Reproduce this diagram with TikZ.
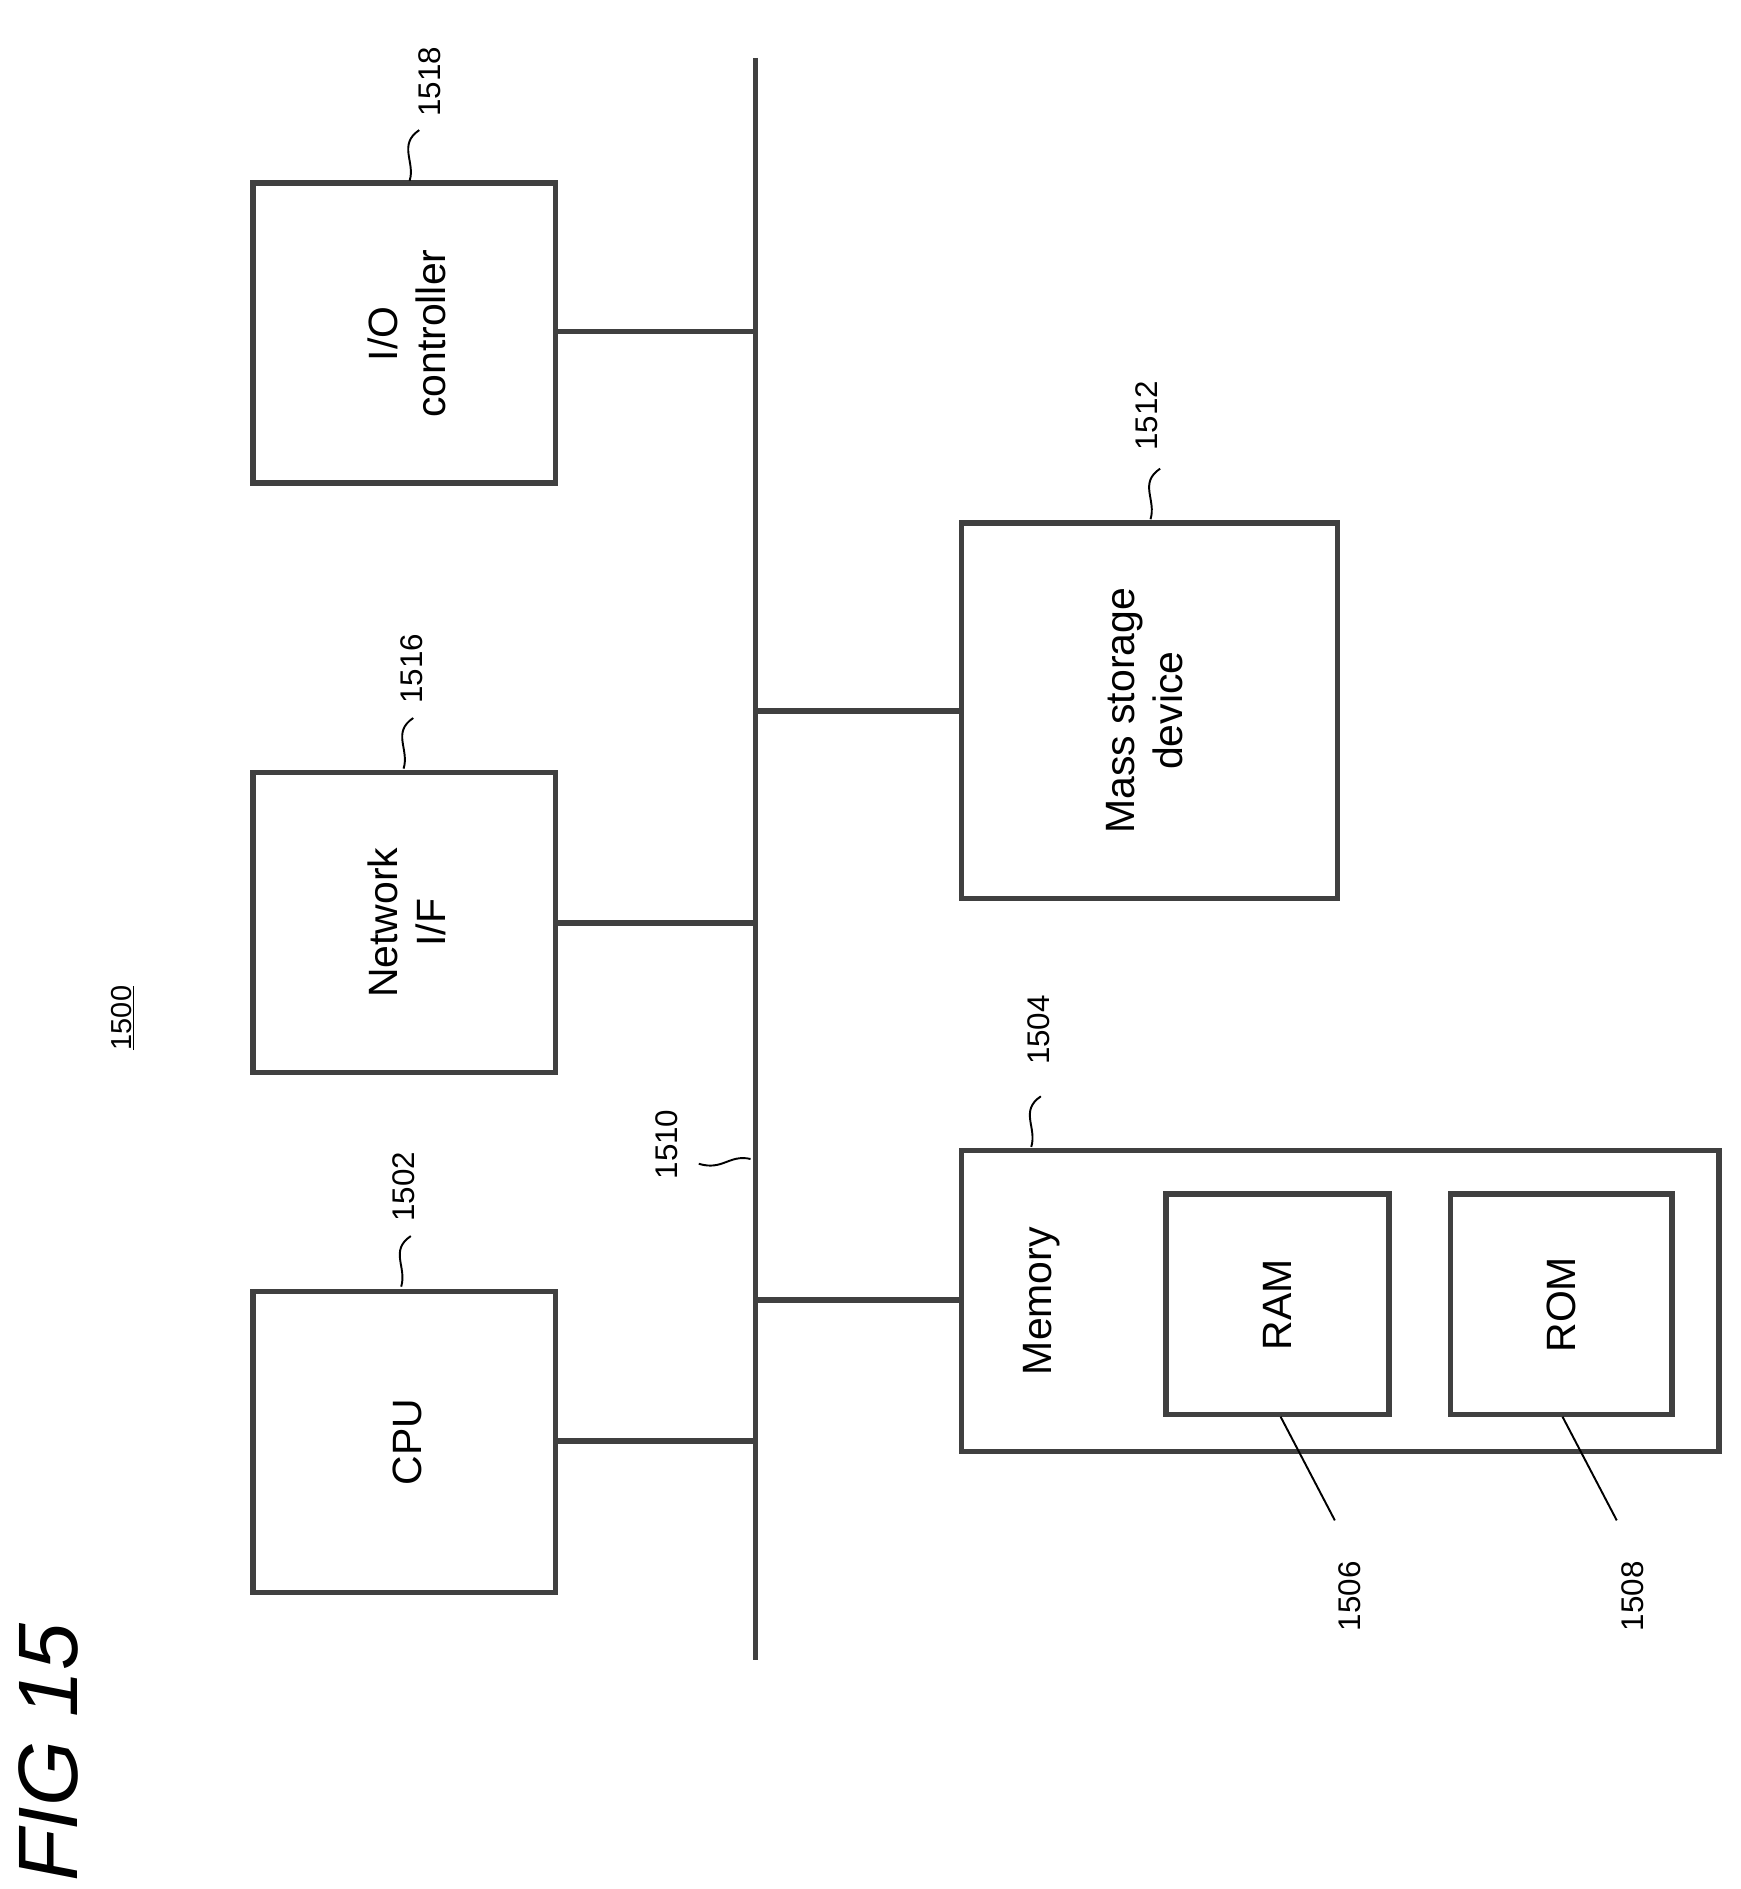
\documentclass[tikz,border=0pt]{standalone}
\usepackage{fontspec}
\setmainfont{Liberation Sans}
\begin{document}
\begin{tikzpicture}[x=1pt,y=-1pt,
 ln/.style={draw=black!75,line width=4.5pt},
 box/.style={ln,fill=none},
 lbl/.style={rotate=90,font=\fontsize{34}{40}\selectfont,align=center},
 ref/.style={rotate=90,font=\fontsize{26}{30}\selectfont},
 sq/.style={draw=black,line width=1.6pt}]
\useasboundingbox (0,0) rectangle (1445,1568);
\coordinate (bt) at (627,48); \coordinate (bb) at (627,1378);
\draw[ln] (bt) -- (bb);
% boxes
\draw[box] (210,152) rectangle (461,401); \node[lbl] (io) at (338,277) {I/O\\controller};
\draw[box] (210,641) rectangle (461,890); \node[lbl] (net) at (338,766) {Network\\I/F};
\draw[box] (210,1072) rectangle (461,1322); \node[lbl] (cpu) at (338,1197) {CPU};
\draw[box] (798,434) rectangle (1110,746); \node[lbl] (ms) at (950,590) {Mass storage\\device};
\draw[box] (798,955) rectangle (1427,1205); \node[lbl] (mem) at (865,1080) {Memory};
\draw[box] (968,991) rectangle (1153,1174); \node[lbl] (ram) at (1060,1083) {RAM};
\draw[box] (1204,991) rectangle (1388,1174); \node[lbl] (rom) at (1296,1083) {ROM};
% connectors
\draw[ln] (461,275) -- (627,275);
\draw[ln] (461,766) -- (627,766);
\draw[ln] (461,1196) -- (627,1196);
\draw[ln] (627,590) -- (798,590);
\draw[ln] (627,1079) -- (798,1079);
% labels
\node[ref] (l1518) at (357,68) {1518};
\draw[sq] (340,150) .. controls (345,135) and (330,120) .. (348,108);
\node[ref] (l1516) at (342,555) {1516};
\draw[sq] (335,638) .. controls (340,622) and (325,608) .. (343,596);
\node[ref] (l1502) at (335,985) {1502};
\draw[sq] (333,1068) .. controls (338,1052) and (323,1038) .. (341,1026);
\node[ref] (l1512) at (952,345) {1512};
\draw[sq] (955,431) .. controls (960,415) and (945,401) .. (963,389);
\node[ref] (l1504) at (862,855) {1504};
\draw[sq] (856,952) .. controls (861,936) and (846,922) .. (864,910);
\node[ref] (l1510) at (553,950) {1510};
\draw[sq] (623,962) .. controls (605,958) and (600,972) .. (580,966);
\node[ref] (l1506) at (1120,1325) {1506};
\draw[sq] (1063,1176) -- (1108,1262);
\node[ref] (l1508) at (1355,1325) {1508};
\draw[sq] (1297,1176) -- (1342,1262);
\node[ref,font=\fontsize{24}{28}\selectfont] (l1500) at (102,845) {\underline{1500}};
\node[rotate=90,font=\fontsize{70}{80}\selectfont\itshape,anchor=center] (fig) at (40,1455) {\rmfamily FIG 15};
\end{tikzpicture}
\end{document}
